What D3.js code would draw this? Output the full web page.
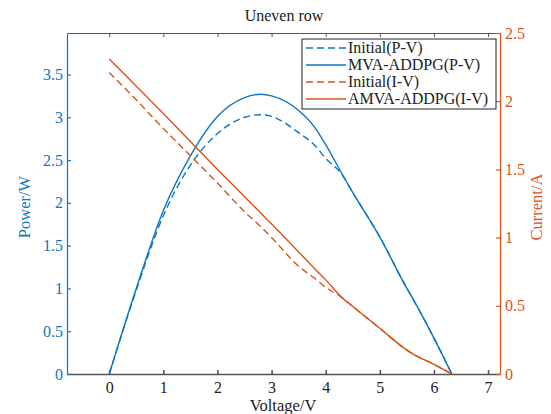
<!DOCTYPE html>
<html>
<head>
<meta charset="utf-8">
<script src="https://cdn.jsdelivr.net/npm/d3@7"></script>
<style>
  body { margin: 0; background: #fff; }
  svg { display: block; font-family: "Liberation Serif", "Times New Roman", serif; }
  svg text { font-family: "Liberation Serif", "Times New Roman", serif; }
</style>
</head>
<body>
<svg></svg>
<script>
// voltage samples (V)
var voltage = [0, 0.5, 1, 1.5, 2, 2.5, 2.8, 3, 3.5, 3.8, 4, 4.3, 4.5, 5, 5.5, 5.6, 6, 6.33];
// power (W)
var powerInitial = [0, 0.98, 1.85, 2.44, 2.81, 3.00, 3.03, 3.01, 2.82, 2.67, 2.52, 2.33, 2.12, 1.60, 1.00, 0.89, 0.42, 0];
var powerMVA = [0, 1.00, 1.91, 2.55, 3.01, 3.23, 3.27, 3.25, 3.08, 2.88, 2.68, 2.34, 2.12, 1.60, 1.00, 0.89, 0.42, 0];
// current (A)
var currentInitial = [2.21, 2.01, 1.80, 1.60, 1.40, 1.19, 1.08, 1.00, 0.79, 0.70, 0.635, 0.56, 0.495, 0.335, 0.175, 0.15, 0.07, 0];
var currentAMVA = [2.31, 2.11, 1.91, 1.705, 1.50, 1.30, 1.18, 1.10, 0.895, 0.77, 0.69, 0.56, 0.495, 0.335, 0.175, 0.15, 0.07, 0];

var xTicks = [0, 1, 2, 3, 4, 5, 6, 7];
var powerTicks = [0, 0.5, 1, 1.5, 2, 2.5, 3, 3.5];
var currentTicks = [0, 0.5, 1, 1.5, 2, 2.5];
var legendLabels = ["Initial(P-V)", "MVA-ADDPG(P-V)", "Initial(I-V)", "AMVA-ADDPG(I-V)"];

function main() {
  var width = 551, height = 414;
  var blue = "#0b76c2", orange = "#D95319", grey = "#555";
  var left = 67, right = 500, top = 33, bottom = 374;
  var fmt = d3.format("~g");

  var svg = d3.select("svg").attr("width", width).attr("height", height);

  var x = d3.scaleLinear().domain([-0.78, 7.22]).range([left, right]);
  var yP = d3.scaleLinear().domain([0, 3.985]).range([bottom, top]);
  var yI = d3.scaleLinear().domain([0, 2.5]).range([bottom, top]);

  function style(g, color, width) {
    g.attr("font-family", null).attr("font-size", 16);
    g.selectAll("path,line").attr("stroke", color).attr("stroke-width", width);
    g.selectAll("text").attr("fill", color === grey ? "#222" : color);
  }

  // top frame line with ticks
  svg.append("g")
    .attr("transform", "translate(0," + top + ")")
    .call(d3.axisTop(x).tickValues(xTicks).tickSizeInner(-4).tickSizeOuter(0).tickFormat(""))
    .call(style, grey, 1);

  svg.append("g")
    .attr("transform", "translate(0," + bottom + ")")
    .call(d3.axisBottom(x).tickValues(xTicks).tickFormat(fmt).tickSizeInner(-4).tickSizeOuter(0).tickPadding(8))
    .call(style, grey, 1.6);

  svg.append("g")
    .attr("transform", "translate(" + left + ",0)")
    .call(d3.axisLeft(yP).tickValues(powerTicks).tickFormat(fmt).tickSizeInner(-4).tickSizeOuter(0).tickPadding(4))
    .call(style, blue, 1.2);

  svg.append("g")
    .attr("transform", "translate(" + right + ",0)")
    .call(d3.axisRight(yI).tickValues(currentTicks).tickFormat(fmt).tickSizeInner(-4).tickSizeOuter(0).tickPadding(5))
    .call(style, orange, 1.2);

  var series = [
    { values: powerInitial, y: yP, color: blue, dash: "7,4" },
    { values: powerMVA, y: yP, color: blue, dash: null },
    { values: currentInitial, y: yI, color: orange, dash: "7,4" },
    { values: currentAMVA, y: yI, color: orange, dash: null }
  ];

  series.forEach(function(s) {
    var line = d3.line()
      .x(function(d, i) { return x(voltage[i]); })
      .y(function(d) { return s.y(d); })
      .curve(d3.curveMonotoneX);
    svg.append("path")
      .datum(s.values)
      .attr("d", line)
      .attr("fill", "none")
      .attr("stroke", s.color)
      .attr("stroke-width", 1.4)
      .attr("stroke-dasharray", s.dash);
  });

  // title and axis labels
  svg.append("text").attr("x", 284).attr("y", 21).attr("text-anchor", "middle")
    .attr("font-size", 16).attr("fill", "#222").text("Uneven row");
  svg.append("text").attr("x", 283).attr("y", 411).attr("text-anchor", "middle")
    .attr("font-size", 16.5).attr("fill", "#222").text("Voltage/V");
  svg.append("text").attr("transform", "translate(30,207) rotate(-90)").attr("text-anchor", "middle")
    .attr("font-size", 16.5).attr("fill", blue).text("Power/W");
  svg.append("text").attr("transform", "translate(542,207) rotate(-90)").attr("text-anchor", "middle")
    .attr("font-size", 16.5).attr("fill", orange).text("Current/A");

  // legend
  var legend = svg.append("g");
  legend.append("rect")
    .attr("x", 302).attr("y", 39).attr("width", 194).attr("height", 70)
    .attr("fill", "#fff").attr("stroke", "#222").attr("stroke-width", 1);
  var items = legend.selectAll(".item")
    .data(series)
    .enter()
    .append("g")
    .attr("class", "item")
    .attr("transform", function(d, i) { return "translate(0," + (48 + i * 17) + ")"; });
  items.append("line")
    .attr("x1", 306).attr("x2", 346)
    .attr("stroke", function(d) { return d.color; })
    .attr("stroke-width", 1.4)
    .attr("stroke-dasharray", function(d) { return d.dash; });
  items.append("text")
    .attr("x", 348).attr("dy", "0.33em")
    .attr("font-size", 16).attr("fill", "#222")
    .text(function(d, i) { return legendLabels[i]; });
}

main();
</script>
</body>
</html>
